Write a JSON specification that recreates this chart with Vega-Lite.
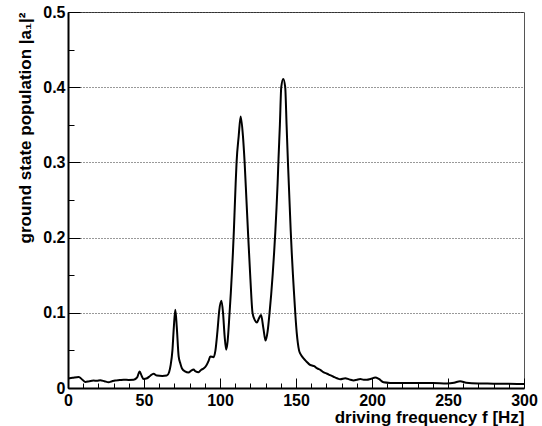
{
  "$schema": "https://vega.github.io/schema/vega-lite/v6.json",
  "width": 456,
  "height": 376,
  "autosize": {"type": "none"},
  "padding": {"left": 68, "top": 12, "right": 18, "bottom": 38},
  "background": "white",
  "config": {
    "view": {"stroke": "#555555", "strokeWidth": 1},
    "font": "Liberation Sans",
    "axis": {
      "labelFont": "Liberation Sans",
      "labelFontWeight": "bold",
      "labelFontSize": 16,
      "labelColor": "black",
      "titleFont": "Liberation Sans",
      "titleFontWeight": "bold",
      "titleFontSize": 17,
      "titleColor": "black",
      "domainColor": "black",
      "tickColor": "black"
    }
  },
  "data": {
    "values": [
      {"f": 0, "p": 0.0125}, {"f": 3, "p": 0.0135}, {"f": 7, "p": 0.0147}, {"f": 9.5, "p": 0.011},
      {"f": 11.4, "p": 0.008}, {"f": 14, "p": 0.009}, {"f": 16.8, "p": 0.0099}, {"f": 19, "p": 0.0095},
      {"f": 21.2, "p": 0.0103}, {"f": 24, "p": 0.009}, {"f": 26.7, "p": 0.0076}, {"f": 29, "p": 0.009},
      {"f": 31, "p": 0.01}, {"f": 34, "p": 0.0105}, {"f": 36.6, "p": 0.011}, {"f": 40, "p": 0.0108},
      {"f": 43.2, "p": 0.011}, {"f": 45.5, "p": 0.014}, {"f": 47.1, "p": 0.022}, {"f": 48.5, "p": 0.016},
      {"f": 49.7, "p": 0.012}, {"f": 52, "p": 0.013}, {"f": 54, "p": 0.016}, {"f": 56.3, "p": 0.019},
      {"f": 58.5, "p": 0.0165}, {"f": 62, "p": 0.016}, {"f": 65, "p": 0.0165}, {"f": 66.5, "p": 0.021},
      {"f": 67.5, "p": 0.03}, {"f": 68.7, "p": 0.05}, {"f": 69.6, "p": 0.08}, {"f": 70.6, "p": 0.104},
      {"f": 71.6, "p": 0.08}, {"f": 72.8, "p": 0.042}, {"f": 74, "p": 0.032}, {"f": 75, "p": 0.026},
      {"f": 77, "p": 0.022}, {"f": 79.3, "p": 0.0205}, {"f": 81, "p": 0.023}, {"f": 82.6, "p": 0.0245},
      {"f": 84, "p": 0.022}, {"f": 85.9, "p": 0.021}, {"f": 87.5, "p": 0.024}, {"f": 89.2, "p": 0.026},
      {"f": 91, "p": 0.03}, {"f": 92.5, "p": 0.036}, {"f": 93.6, "p": 0.042}, {"f": 95.8, "p": 0.041},
      {"f": 97, "p": 0.05}, {"f": 98.3, "p": 0.075}, {"f": 99.5, "p": 0.103}, {"f": 100.9, "p": 0.116},
      {"f": 102, "p": 0.1}, {"f": 103, "p": 0.07}, {"f": 104.1, "p": 0.051}, {"f": 105, "p": 0.062},
      {"f": 106.3, "p": 0.1}, {"f": 107.1, "p": 0.126}, {"f": 107.8, "p": 0.152}, {"f": 108.5, "p": 0.18},
      {"f": 109.1, "p": 0.208}, {"f": 109.7, "p": 0.24}, {"f": 110.3, "p": 0.272}, {"f": 110.9, "p": 0.3},
      {"f": 112.3, "p": 0.335}, {"f": 113.6, "p": 0.361}, {"f": 115.1, "p": 0.335},
      {"f": 116.2, "p": 0.3}, {"f": 117.4, "p": 0.25}, {"f": 118.6, "p": 0.2}, {"f": 120, "p": 0.145},
      {"f": 121.4, "p": 0.1}, {"f": 123, "p": 0.09}, {"f": 124.3, "p": 0.087}, {"f": 125.5, "p": 0.092},
      {"f": 127, "p": 0.097}, {"f": 128.5, "p": 0.08}, {"f": 130, "p": 0.063}, {"f": 131.3, "p": 0.075},
      {"f": 132.6, "p": 0.1}, {"f": 133.7, "p": 0.125}, {"f": 134.7, "p": 0.152}, {"f": 135.6, "p": 0.18},
      {"f": 136.4, "p": 0.208}, {"f": 137.2, "p": 0.24}, {"f": 137.9, "p": 0.272}, {"f": 138.5, "p": 0.305},
      {"f": 139.4, "p": 0.35}, {"f": 140.3, "p": 0.4}, {"f": 141.6, "p": 0.411},
      {"f": 142.9, "p": 0.4}, {"f": 143.8, "p": 0.35}, {"f": 144.7, "p": 0.3}, {"f": 145.3, "p": 0.27},
      {"f": 145.9, "p": 0.24}, {"f": 146.5, "p": 0.21}, {"f": 147.2, "p": 0.18}, {"f": 148, "p": 0.15},
      {"f": 148.8, "p": 0.123}, {"f": 149.5, "p": 0.1}, {"f": 150.5, "p": 0.073}, {"f": 151.2, "p": 0.06},
      {"f": 152, "p": 0.05}, {"f": 153, "p": 0.045}, {"f": 154.3, "p": 0.041}, {"f": 156, "p": 0.037},
      {"f": 157.5, "p": 0.034}, {"f": 159, "p": 0.031}, {"f": 160.5, "p": 0.03}, {"f": 162, "p": 0.029},
      {"f": 164, "p": 0.026}, {"f": 166, "p": 0.024}, {"f": 168, "p": 0.021}, {"f": 170.4, "p": 0.019},
      {"f": 172.5, "p": 0.017}, {"f": 174.7, "p": 0.015}, {"f": 177, "p": 0.013}, {"f": 179.1, "p": 0.0116},
      {"f": 182.4, "p": 0.013}, {"f": 185, "p": 0.0115}, {"f": 188, "p": 0.01}, {"f": 190, "p": 0.011},
      {"f": 192.3, "p": 0.012}, {"f": 194.5, "p": 0.011}, {"f": 196.7, "p": 0.011}, {"f": 199, "p": 0.012},
      {"f": 202.2, "p": 0.0138}, {"f": 204.5, "p": 0.012}, {"f": 207.6, "p": 0.0076}, {"f": 212, "p": 0.0068},
      {"f": 220, "p": 0.0065}, {"f": 230, "p": 0.0065}, {"f": 240, "p": 0.0065}, {"f": 249.3, "p": 0.006},
      {"f": 254, "p": 0.007}, {"f": 258, "p": 0.009}, {"f": 262, "p": 0.007}, {"f": 270, "p": 0.006},
      {"f": 280, "p": 0.0058}, {"f": 290, "p": 0.0055}, {"f": 300, "p": 0.0053}
    ]
  },
  "layer": [
    {
      "mark": {"type": "line", "color": "black", "strokeWidth": 2, "interpolate": "monotone", "clip": true},
      "encoding": {
        "x": {
          "field": "f", "type": "quantitative",
          "scale": {"domain": [0, 300], "nice": false, "zero": false},
          "axis": {
            "orient": "bottom",
            "title": "driving frequency f [Hz]",
            "titleAnchor": "end",
            "values": [0, 50, 100, 150, 200, 250, 300],
            "tickSize": -10, "tickWidth": 1,
            "domainWidth": 2,
            "labelPadding": 14,
            "titlePadding": 1,
            "grid": false,
            "labelFlush": false
          }
        },
        "y": {
          "field": "p", "type": "quantitative",
          "scale": {"domain": [0, 0.5], "nice": false},
          "axis": {
            "orient": "left",
            "title": "ground state population |a₁|²",
            "titleAnchor": "end",
            "values": [0, 0.1, 0.2, 0.3, 0.4, 0.5],
            "format": ".1~f",
            "tickSize": -12, "tickWidth": 1,
            "domainWidth": 2,
            "labelPadding": 15,
            "titlePadding": 8,
            "grid": true, "gridColor": "black", "gridDash": [1, 2], "gridWidth": 1, "gridOpacity": 0.8,
            "labelFlush": false
          }
        }
      }
    },
    {
      "mark": {"type": "line", "opacity": 0},
      "encoding": {
        "x": {
          "field": "f", "type": "quantitative",
          "axis": {
            "orient": "bottom", "title": null, "labels": false, "domain": false, "grid": false,
            "values": [10, 20, 30, 40, 60, 70, 80, 90, 110, 120, 130, 140, 160, 170, 180, 190, 210, 220, 230, 240, 260, 270, 280, 290],
            "tickSize": -5, "tickWidth": 1
          }
        },
        "y": {
          "field": "p", "type": "quantitative",
          "axis": {
            "orient": "left", "title": null, "labels": false, "domain": false, "grid": false,
            "values": [0.05, 0.15, 0.25, 0.35, 0.45],
            "tickSize": -6, "tickWidth": 1
          }
        }
      }
    }
  ],
  "resolve": {"axis": {"x": "independent", "y": "independent"}}
}
